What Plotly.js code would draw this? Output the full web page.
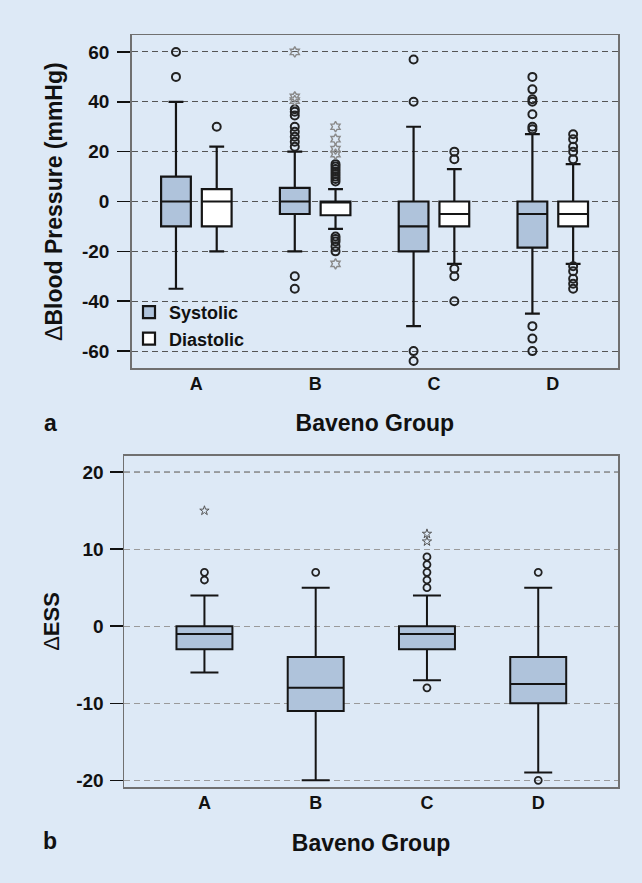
<!DOCTYPE html>
<html>
<head>
<meta charset="utf-8">
<script src="https://cdn.plot.ly/plotly-3.0.1.min.js"></script>
<style>html,body{margin:0;padding:0;background:#dde9f6;}#chart{width:642px;height:883px;}</style>
</head>
<body>
<div id="chart"></div>
<script>
// ---------- data ----------
const groups = ['A', 'B', 'C', 'D'];

// Panel a: change in blood pressure (mmHg)
const sysQ1  = [-10, -5, -20, -18.5];
const sysMed = [0, 0, -10, -5];
const sysQ3  = [10, 5.5, 0, 0];
const sysLo  = [-35, -20, -50, -45];
const sysHi  = [40, 20, 30, 27];
const sysOut = [[60, 50], [22, 24, 26, 28, 30, 34.5, 36, 37, -30, -35], [57, 40, -60, -64], [50, 45, 41, 40, 35, 30, 29, -50, -55, -60]];
const sysExt = [[], [60, 42, 40.5], [], []];

const diaQ1  = [-10, -5.5, -10, -10];
const diaMed = [0, 0, -5, -5];
const diaQ3  = [5, 0, 0, 0];
const diaLo  = [-20, -11, -25, -25];
const diaHi  = [22, 5, 13, 15];
const diaOut = [[30], [8, 9, 10, 11, 12, 13, 14, 15, -14, -15, -16, -18, -20], [20, 17, -27, -30, -40], [17, 20, 22, 25, 27, -26, -28, -31, -33, -35]];
const diaExt = [[], [30, 25, 21, 19, -25], [], []];

const bpTickVals = [-60, -40, -20, 0, 20, 40, 60];
const bpTickText = ['-60', '-40', '-20', '0', '20', '40', '60'];

// Panel b: change in ESS
const essQ1  = [-3, -11, -3, -10];
const essMed = [-1, -8, -1, -7.5];
const essQ3  = [0, -4, 0, -4];
const essLo  = [-6, -20, -7, -19];
const essHi  = [4, 5, 4, 5];
const essOut = [[6, 7], [7], [5, 6, 7, 8, 9, -8], [7, -20]];
const essExt = [[15], [], [11, 12], []];

const essTickVals = [-20, -10, 0, 10, 20];
const essTickText = ['-20', '-10', '0', '10', '20'];

// ---------- styling ----------
const BG = '#dde9f6';
const FILL = '#afc3db';
const FONT = 'Liberation Sans, Arial, Helvetica, sans-serif';
const OFF = 0.1715;      // group offset of the two boxes in panel a
const BW_A = 0.2505;     // box width panel a
const BW_B = 0.503;      // box width panel b

const idx = groups.map((g, i) => i);
function flat(lists, off) {
  const x = [], y = [];
  lists.forEach((vals, i) => vals.forEach(v => { x.push(i + off); y.push(v); }));
  return {x, y};
}

function boxTrace(name, off, q1, med, q3, lo, hi, fill, width, xa, ya, show, lw) {
  return {
    type: 'box', name: name, x: idx.map(i => i + off),
    q1: q1, median: med, q3: q3, lowerfence: lo, upperfence: hi,
    width: width, whiskerwidth: 0.5, boxpoints: false,
    fillcolor: fill, line: {color: '#151515', width: lw},
    xaxis: xa, yaxis: ya, showlegend: show, hoverinfo: 'skip'
  };
}
function ptsTrace(lists, off, symbol, size, color, lw, xa, ya) {
  const p = flat(lists, off);
  return {
    type: 'scatter', mode: 'markers', x: p.x, y: p.y,
    marker: {symbol: symbol, size: size, color: color, line: {color: color, width: lw}},
    xaxis: xa, yaxis: ya, showlegend: false, hoverinfo: 'skip'
  };
}

const traces = [
  boxTrace('Systolic', -OFF, sysQ1, sysMed, sysQ3, sysLo, sysHi, FILL, BW_A, 'x', 'y', true, 2.2),
  boxTrace('Diastolic', OFF, diaQ1, diaMed, diaQ3, diaLo, diaHi, '#ffffff', BW_A, 'x', 'y', true, 2.2),
  ptsTrace(sysOut, -OFF, 'circle-open', 8, '#222', 2, 'x', 'y'),
  ptsTrace(diaOut, OFF, 'circle-open', 8, '#222', 2, 'x', 'y'),
  ptsTrace(sysExt, -OFF, 'hexagram-open', 8, '#8a8a8a', 1.4, 'x', 'y'),
  ptsTrace(diaExt, OFF, 'hexagram-open', 8, '#8a8a8a', 1.4, 'x', 'y'),
  boxTrace('ESS', 0, essQ1, essMed, essQ3, essLo, essHi, FILL, BW_B, 'x2', 'y2', false, 2),
  ptsTrace(essOut, 0, 'circle-open', 7, '#222', 1.8, 'x2', 'y2'),
  ptsTrace(essExt, 0, 'star-open', 7, '#555', 1, 'x2', 'y2')
];

const tickFont = {family: FONT, size: 19, weight: 'bold', color: '#111'};
const xTickFont = {family: FONT, size: 18, weight: 'bold', color: '#111'};
const titleFont = {family: FONT, size: 23, weight: 'bold', color: '#111'};

function xAxis(domain, range, anchor, standoff) {
  return {
    domain: domain, range: range, anchor: anchor,
    tickvals: idx, ticktext: groups, ticks: '', showgrid: false, zeroline: false,
    showline: true, mirror: true, linecolor: '#707070', linewidth: 1.5,
    tickfont: xTickFont, ticklabelstandoff: -1,
    title: {text: 'Baveno Group', font: titleFont, standoff: standoff}
  };
}
function yAxis(domain, range, anchor, tv, tt, gridcolor, title, tsize, standoff, lblStandoff) {
  return {
    domain: domain, range: range, anchor: anchor,
    tickvals: tv, ticktext: tt, ticks: 'outside', ticklen: 13, tickwidth: 1.5, tickcolor: '#111',
    showgrid: true, gridcolor: gridcolor, griddash: '6px,4px', gridwidth: 1, zeroline: false,
    showline: true, mirror: true, linecolor: '#707070', linewidth: 1.5,
    tickfont: tickFont, ticklabelstandoff: lblStandoff,
    title: {text: title, font: {family: FONT, size: tsize, weight: 'normal', color: '#111'}, standoff: standoff}
  };
}

const layout = {
  width: 642, height: 883,
  margin: {l: 124, r: 24, t: 35, b: 96},
  paper_bgcolor: BG, plot_bgcolor: BG,
  showlegend: true,
  legend: {
    x: (129 - 124) / 494, xanchor: 'left', y: (787 - 294) / 752, yanchor: 'top',
    bgcolor: 'rgba(0,0,0,0)', font: {family: FONT, size: 18, weight: 'bold', color: '#111'},
    tracegroupgap: 0
  },
  xaxis: xAxis([0.0156, 1], [-0.544, 3.549], 'y', 21),
  yaxis: yAxis([0.5568, 1], [-66.9, 66.8], 'x', bpTickVals, bpTickText, '#555',
    'Δ<b>Blood Pressure (mmHg)</b>', 23, 13, 4),
  xaxis2: xAxis([0, 1], [-0.723, 3.717], 'y2', 23),
  yaxis2: yAxis([0, 0.4402], [-20.87, 22.1], 'x2', essTickVals, essTickText, '#9a9a9a',
    'Δ<b>ESS</b>', 22, 10, 2),
  shapes: [{
    type: 'line', xref: 'x2 domain', x0: 0, x1: 1, yref: 'y2',
    y0: essTickVals[essTickVals.length - 1], y1: essTickVals[essTickVals.length - 1],
    line: {color: '#222', width: 1, dash: '6px,4px'}, layer: 'below'
  }],
  annotations: [
    {text: '<b>a</b>', xref: 'paper', yref: 'paper', x: (50.5 - 124) / 494, y: (787 - 422.5) / 752,
     xanchor: 'center', yanchor: 'middle', showarrow: false, font: {family: FONT, size: 23, color: '#111'}},
    {text: '<b>b</b>', xref: 'paper', yref: 'paper', x: (50 - 124) / 494, y: (787 - 841) / 752,
     xanchor: 'center', yanchor: 'middle', showarrow: false, font: {family: FONT, size: 23, color: '#111'}}
  ]
};

Plotly.newPlot('chart', traces, layout, {displayModeBar: false, staticPlot: true});
</script>
</body>
</html>
